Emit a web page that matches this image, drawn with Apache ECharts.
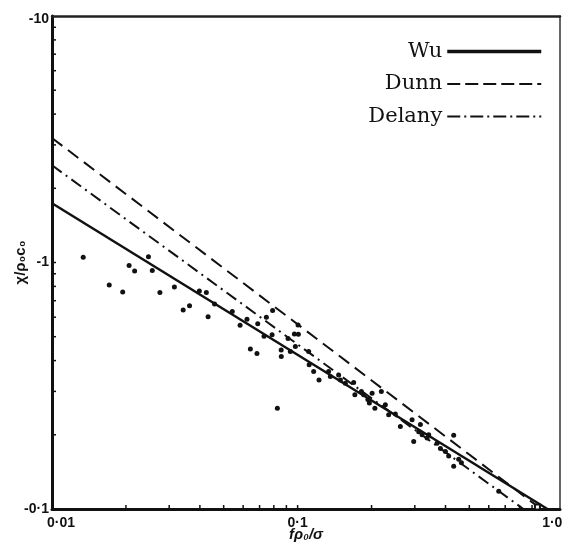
<!DOCTYPE html>
<html><head><meta charset="utf-8">
<script src="https://cdn.jsdelivr.net/npm/echarts@6/dist/echarts.min.js"></script>
<style>html,body{margin:0;padding:0;background:#fff}#c{width:563px;height:545px}</style>
</head><body><div id="c"></div>
<script>
// ---- data ----
const xLabelValues = [0.01, 0.1, 1];
const xLabelTexts = ['0·01', '0·1', '1·0'];
const xTickValues = [0.02,0.03,0.04,0.05,0.06,0.07,0.08,0.09,0.1,0.2,0.3,0.4,0.5,0.6,0.7,0.8,0.9];
const yLabelValues = [-0.1, -1, -10];
const yLabelTexts = ['-0·1', '-1', '-10'];
const yTickValues = [-0.2,-0.3,-0.4,-0.5,-0.6,-0.7,-0.8,-0.9,-1,-2,-3,-4,-5,-6,-7,-8,-9];
const seriesNames = ['Wu', 'Dunn', 'Delany'];
const wuLine = [[0.01, -1.74], [1.04, -0.1]];
const dunnLine = [[0.01, -3.2], [0.98, -0.1]];
const delanyLine = [[0.01, -2.48], [0.83, -0.1]];
const measuredX = [0.0134,0.0171,0.0194,0.0206,0.0217,0.0247,0.0256,0.0275,0.0315,0.0342,
  0.0363,0.0398,0.0425,0.0432,0.0459,0.0542,0.0583,0.0622,0.0642,0.0683,
  0.0688,0.0730,0.0746,0.0787,0.0791,0.0827,0.0857,0.0858,0.0914,0.0934,
  0.0979,0.1004,0.1007,0.0970,0.1109,0.1114,0.1162,0.1222,0.1337,0.1359,
  0.1469,0.1493,0.1564,0.1691,0.1710,0.1818,0.1857,0.1932,0.2010,0.1959,
  0.2063,0.2192,0.2276,0.2348,0.2500,0.2620,0.2924,0.2969,0.3111,0.3161,
  0.3212,0.3366,0.3417,0.3697,0.3814,0.3996,0.4122,0.4319,0.4319,0.4527,
  0.4643,0.6588];
const measuredY = [-1.05,-0.811,-0.760,-0.972,-0.924,-1.056,-0.927,-0.755,-0.796,-0.642,
  -0.668,-0.767,-0.755,-0.603,-0.678,-0.632,-0.557,-0.589,-0.446,-0.427,
  -0.564,-0.502,-0.599,-0.509,-0.639,-0.256,-0.442,-0.416,-0.492,-0.435,
  -0.456,-0.558,-0.511,-0.513,-0.435,-0.385,-0.361,-0.334,-0.361,-0.345,
  -0.350,-0.334,-0.324,-0.326,-0.291,-0.300,-0.291,-0.278,-0.295,-0.269,
  -0.256,-0.300,-0.265,-0.241,-0.243,-0.216,-0.230,-0.188,-0.206,-0.220,
  -0.200,-0.194,-0.200,-0.185,-0.176,-0.171,-0.164,-0.199,-0.149,-0.159,
  -0.154,-0.118];
const squareX = [0.947];
const squareY = [-0.102];

// ---- chart ----
const X_MIN = 0.01, X_MAX = 1.17, Y_MIN = 0.1, Y_MAX = 10;
const mag = v => Math.abs(v);
const toPts = arr => arr.map(p => [p[0], mag(p[1])]);
const scatterData = measuredX.map((x, i) => [x, mag(measuredY[i])]);
const squareData = squareX.map((x, i) => [x, mag(squareY[i])]);
const baseFont = {fontFamily: 'Liberation Sans', fontWeight: 'bold', fontSize: 14, color: '#111'};
const xFmt = v => {
  const i = xLabelValues.findIndex(t => Math.abs(t - v) / t < 1e-6);
  if (i < 0) return '';
  return i === 1 ? '{m|' + xLabelTexts[i] + '}' : '{e|' + xLabelTexts[i] + '}';
};
const yFmt = v => {
  const i = yLabelValues.findIndex(t => Math.abs(mag(t) - v) / mag(t) < 1e-6);
  if (i < 0) return '';
  return i === 2 ? '{t|' + yLabelTexts[i] + '}' : '{m|' + yLabelTexts[i] + '}';
};
const TICK = 4;

const chart = echarts.init(document.getElementById('c'), null, {renderer: 'canvas'});
chart.setOption({
  animation: false,
  backgroundColor: '#fff',
  grid: {left: 52, right: 3, top: 16, bottom: 36, containLabel: false, outerBoundsMode: 'none'},
  legend: {
    data: [
      {name: seriesNames[0], lineStyle: {width: 3.5}},
      {name: seriesNames[1], lineStyle: {width: 2, type: [13, 5]}},
      {name: seriesNames[2], lineStyle: {width: 2, type: [13, 4, 2, 4]}}
    ],
    orient: 'vertical', right: 20, top: 41, align: 'right', padding: 0,
    itemWidth: 94, itemHeight: 14, itemGap: 11.5,
    itemStyle: {opacity: 0},
    textStyle: {fontFamily: 'DejaVu Serif', fontSize: 21, color: '#111', lineHeight: 20}
  },
  xAxis: [{
    type: 'log', min: X_MIN, max: X_MAX,
    name: 'fρ₀/σ', nameLocation: 'middle', nameGap: 18, nameMoveOverlap: false,
    nameTextStyle: {fontFamily: 'Liberation Sans', fontWeight: 'bold', fontSize: 15, color: '#111', fontStyle: 'italic', verticalAlign: 'top'},
    axisLine: {show: true, lineStyle: {color: '#111', width: 3}},
    axisTick: {show: false},
    axisLabel: {show: true, margin: 7, formatter: xFmt, customValues: xLabelValues, ...baseFont,
      rich: {m: {...baseFont}, e: {...baseFont, padding: [0, 0, 0, 18]}}},
    splitLine: {show: false}, minorTick: {show: false}
  }, {
    type: 'log', min: X_MIN, max: X_MAX, position: 'top',
    axisLine: {show: true, lineStyle: {color: '#222', width: 2.5}},
    axisTick: {show: false}, axisLabel: {show: false}, splitLine: {show: false}
  }],
  yAxis: [{
    type: 'log', min: Y_MIN, max: Y_MAX,
    name: 'χ/ρ₀c₀', nameLocation: 'middle', nameGap: 24, nameRotate: 90, nameMoveOverlap: false,
    nameTextStyle: {fontFamily: 'Liberation Sans', fontWeight: 'bold', fontSize: 15, color: '#111'},
    axisLine: {show: true, lineStyle: {color: '#111', width: 3}},
    axisTick: {show: false},
    axisLabel: {show: true, margin: 3, formatter: yFmt, customValues: yLabelValues.map(mag), ...baseFont,
      rich: {m: {...baseFont}, t: {...baseFont, padding: [7, 0, 0, 0]}}},
    splitLine: {show: false}, minorTick: {show: false}
  }, {
    type: 'log', min: Y_MIN, max: Y_MAX, position: 'right',
    axisLine: {show: true, lineStyle: {color: '#333', width: 1.5}},
    axisTick: {show: false}, axisLabel: {show: false}, splitLine: {show: false}
  }],
  series: [
    {name: seriesNames[0], type: 'line', data: toPts(wuLine), symbol: 'none', lineStyle: {color: '#111', width: 2.5}, itemStyle: {color: '#111'}, z: 3},
    {name: seriesNames[1], type: 'line', data: toPts(dunnLine), symbol: 'none', lineStyle: {color: '#111', width: 2, type: [13, 7]}, itemStyle: {color: '#111'}, z: 3},
    {name: seriesNames[2], type: 'line', data: toPts(delanyLine), symbol: 'none', lineStyle: {color: '#111', width: 2, type: [12, 5, 2, 5]}, itemStyle: {color: '#111'}, z: 3},
    {name: 'measured', type: 'scatter', data: scatterData, symbol: 'circle', symbolSize: 5, itemStyle: {color: '#111', opacity: 1}, z: 4},
    {name: 'square', type: 'scatter', data: squareData, symbol: 'emptyRect', symbolSize: 5, itemStyle: {color: '#111', borderColor: '#111', borderWidth: 1, opacity: 1}, z: 4},
    {name: 'xTicks', type: 'custom', silent: true, clip: false, z: 5,
     data: xTickValues.map(v => [v, Y_MIN]),
     renderItem: (params, api) => {
       const p = api.coord([api.value(0), api.value(1)]);
       return {type: 'line', shape: {x1: p[0], y1: p[1], x2: p[0], y2: p[1] - TICK}, style: {stroke: '#111', lineWidth: 1.5}};
     }},
    {name: 'yTicks', type: 'custom', silent: true, clip: false, z: 5,
     data: yTickValues.map(v => [X_MIN, mag(v)]),
     renderItem: (params, api) => {
       const p = api.coord([api.value(0), api.value(1)]);
       return {type: 'line', shape: {x1: p[0], y1: p[1], x2: p[0] + TICK, y2: p[1]}, style: {stroke: '#111', lineWidth: 1.5}};
     }}
  ]
});
</script>
</body></html>
